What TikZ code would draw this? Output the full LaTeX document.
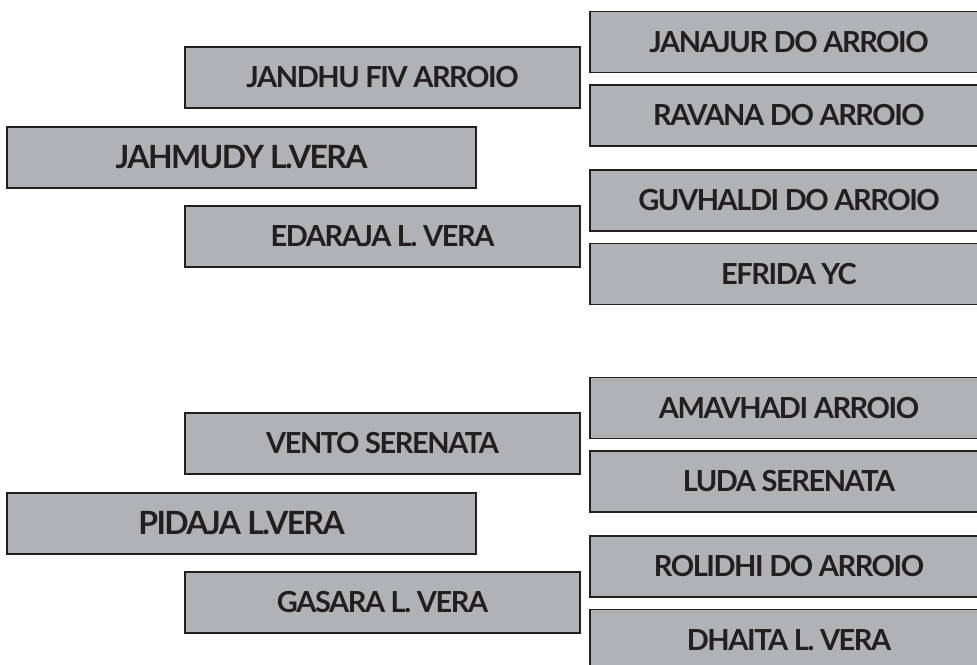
\documentclass[tikz,border=0pt]{standalone}
\usepackage{fontspec}
\setmainfont{Lato}[LetterSpace=-5]
\usetikzlibrary{positioning}
\definecolor{boxgray}{RGB}{177,178,181}
\definecolor{inkdark}{RGB}{35,31,32}

\begin{document}
\begin{tikzpicture}[
    x=1pt, y=-1pt,
    node distance=11pt,
    box/.style={rectangle, draw=inkdark, fill=boxgray, line width=1.4pt, text=inkdark, font=\bfseries\fontsize{29}{32}\selectfont, minimum height=61pt},
    leftbox/.style={box, minimum width=469pt, font=\bfseries\fontsize{32}{35}\selectfont},
    midbox/.style={box, minimum width=395pt},
    rightbox/.style={box, minimum width=398pt}
]
\clip (0,0) rectangle (977,664);
\useasboundingbox (0,0) rectangle (977,664);
% upper group
\node[leftbox] (jahmudy) at (241.5,157.5) {JAHMUDY L.VERA};
\node[midbox] (jandhu) at (382.5,77.5) {JANDHU FIV ARROIO};
\node[midbox] (edaraja) at (382.5,236.5) {EDARAJA L. VERA};
\node[rightbox] (janajur) at (789,42) {JANAJUR DO ARROIO};
\node[rightbox, below=of janajur] (ravana) {RAVANA DO ARROIO};
\node[rightbox] (guvhaldi) at (789,200.5) {GUVHALDI DO ARROIO};
\node[rightbox, below=of guvhaldi] (efrida) {EFRIDA YC};
% lower group
\node[leftbox] (pidaja) at (241.5,523.5) {PIDAJA L.VERA};
\node[midbox] (vento) at (382.5,443.5) {VENTO SERENATA};
\node[midbox] (gasara) at (382.5,602.5) {GASARA L. VERA};
\node[rightbox] (amavhadi) at (789,408) {AMAVHADI ARROIO};
\node[rightbox, below=of amavhadi] (luda) {LUDA SERENATA};
\node[rightbox] (rolidhi) at (789,566.5) {ROLIDHI DO ARROIO};
\node[rightbox, below=of rolidhi] (dhaita) {DHAITA L. VERA};
\end{tikzpicture}
\end{document}
